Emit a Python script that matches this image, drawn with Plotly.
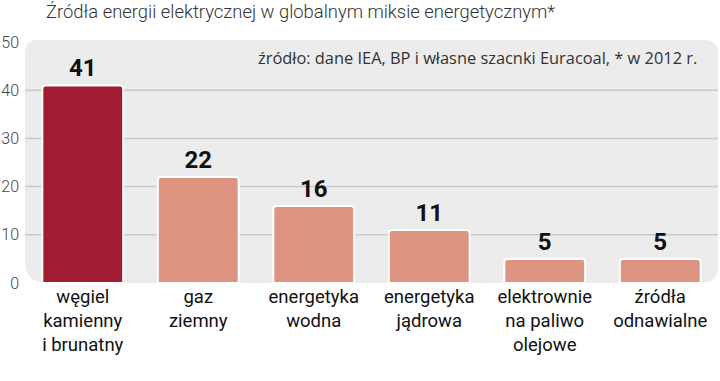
import plotly.graph_objects as go

categories = ["węgiel<br>kamienny<br>i brunatny", "gaz<br>ziemny", "energetyka<br>wodna",
              "energetyka<br>jądrowa", "elektrownie<br>na paliwo<br>olejowe", "źródła<br>odnawialne"]
values = [41, 22, 16, 11, 5, 5]
colors = ["#a11c30", "#dd9582", "#dd9582", "#dd9582", "#dd9582", "#dd9582"]
y_ticks = [0, 10, 20, 30, 40, 50]

title = "Źródła energii elektrycznej w globalnym miksie energetycznym*"
source = "źródło: dane IEA, BP i własne szacnki Euracoal, * w 2012 r."

FONT = "Roboto, Open Sans, Liberation Sans"

fig = go.Figure()
fig.add_trace(go.Bar(
    x=categories, y=values,
    marker=dict(color=colors, line=dict(color="white", width=2), cornerradius=3),
    width=0.7,
    text=[str(v) for v in values], textposition="outside",
    textfont=dict(family=FONT, size=24, color="#111", weight="bold"),
    cliponaxis=False, hoverinfo="skip",
))

grid_shapes = [dict(type="line", xref="paper", yref="y", x0=0, x1=1, y0=t, y1=t, layer="below",
                    line=dict(color="#c9c9c9", width=1.5)) for t in y_ticks[1:-1]]

fig.update_layout(
    width=720, height=381,
    margin=dict(l=25, r=2, t=42, b=98, autoexpand=False),
    paper_bgcolor="white", plot_bgcolor="rgba(0,0,0,0)",
    showlegend=False,
    shapes=[dict(type="path", xref="paper", yref="paper", layer="below",
                 path="M 0.03,0 L 0.975,0 Q 1,0 1,0.07 L 1,0.95 Q 1,1.008 0.98,1.008 L 0.018,1.008 Q 0,1.008 0,0.95 L 0,0.09 Q 0,0 0.03,0 Z",
                 fillcolor="#ececec", line=dict(width=0))] + grid_shapes,
    annotations=[
        dict(text=title, xref="paper", yref="paper", x=0.028, y=1.0, yshift=43, xanchor="left", yanchor="top",
             showarrow=False, font=dict(family=FONT, size=18.4, color="#333", weight=300)),
        dict(text=source, xref="paper", yref="paper", x=0.972, y=0.99, xanchor="right", yanchor="top",
             showarrow=False, font=dict(family="Open Sans, Roboto", size=16.4, color="#333")),
    ],
)
fig.update_xaxes(showgrid=False, showline=False, ticks="", automargin=False,
                 tickfont=dict(family=FONT, size=18.5, color="#111"))
fig.update_yaxes(range=[0, 50], tickvals=y_ticks, showgrid=False,
                 zeroline=False, showline=False, ticks="", automargin=False, ticklabelstandoff=5,
                 tickfont=dict(family=FONT, size=16, color="#444", weight=300))

fig.write_html("out.html", config={"displayModeBar": False},
               post_script="document.body.style.margin='0';document.body.style.padding='0';")
